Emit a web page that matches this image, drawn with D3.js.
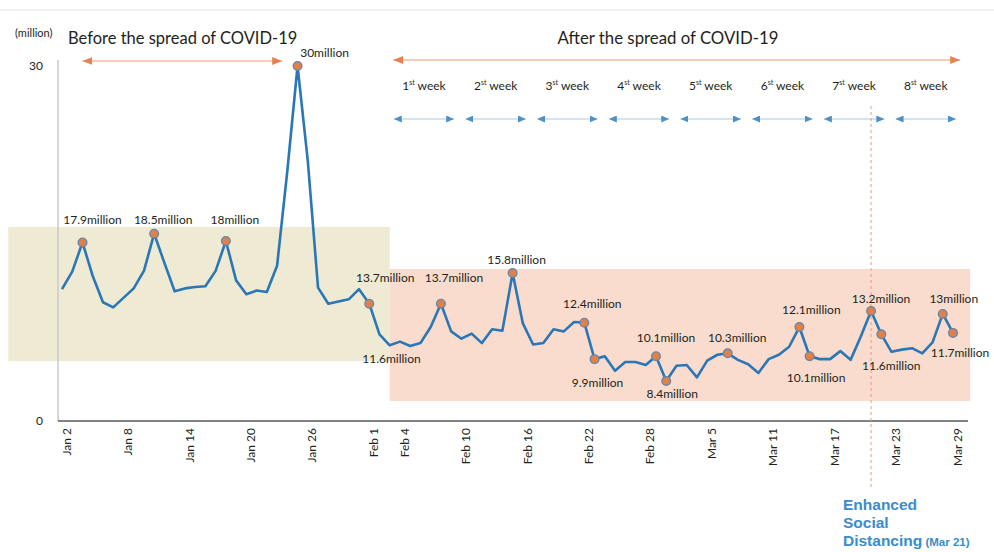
<!DOCTYPE html>
<html>
<head>
<meta charset="utf-8">
<script src="https://cdn.jsdelivr.net/npm/d3@7"></script>
<style>
  html, body { margin: 0; padding: 0; background: #fff; }
  svg { display: block; font-family: Lato, "Open Sans", sans-serif; }
</style>
</head>
<body>
<svg id="chart" width="994" height="552"></svg>
<script>
// Daily ridership (million) from 2 Jan to 29 Mar 2020
const startDay = "2020-01-02";
const endDay = "2020-03-29";
const ridership = [
  // Jan 2 - Jan 31
  14.7, 15.9, 17.9, 15.6, 13.8, 13.45, 14.1, 14.75, 15.95, 18.5,
  16.5, 14.55, 14.75, 14.85, 14.9, 15.95, 18, 15.3, 14.35, 14.6,
  14.5, 16.3, 22.8, 30, 23.5, 14.8, 13.7, 13.85, 14.0, 14.7,
  // Feb 1 - Feb 29
  13.7, 11.6, 10.85, 11.1, 10.8, 11.0, 12.1, 13.7, 11.8, 11.3,
  11.65, 11.0, 11.95, 11.85, 15.8, 12.35, 10.9, 11.0, 11.95, 11.8,
  12.45, 12.4, 9.9, 10.1, 9.1, 9.7, 9.7, 9.5, 10.1,
  // Mar 1 - Mar 29
  8.4, 9.45, 9.5, 8.65, 9.8, 10.2, 10.3, 9.85, 9.55, 8.95,
  9.9, 10.2, 10.75, 12.1, 10.1, 9.9, 9.9, 10.45, 9.85, 11.45,
  13.2, 11.6, 10.4, 10.55, 10.65, 10.3, 11.05, 13, 11.7
];

// Days that carry a value callout; the ones in calloutNoDot get text only
const calloutDays = ["2020-01-04", "2020-01-11", "2020-01-18", "2020-01-25", "2020-02-01",
  "2020-02-02", "2020-02-08", "2020-02-15", "2020-02-22", "2020-02-23", "2020-02-29",
  "2020-03-01", "2020-03-07", "2020-03-14", "2020-03-15", "2020-03-21", "2020-03-22",
  "2020-03-28", "2020-03-29"];
const calloutNoDot = ["2020-02-02"];

// x-axis tick days
const tickDays = ["2020-01-02", "2020-01-08", "2020-01-14", "2020-01-20", "2020-01-26",
  "2020-02-01", "2020-02-04", "2020-02-10", "2020-02-16", "2020-02-22", "2020-02-28",
  "2020-03-05", "2020-03-11", "2020-03-17", "2020-03-23", "2020-03-29"];
const yTicks = [0, 30];

// Monday of each week after the outbreak
const weekStarts = ["2020-02-03", "2020-02-10", "2020-02-17", "2020-02-24",
  "2020-03-02", "2020-03-09", "2020-03-16", "2020-03-23"];
const weekSuffix = "st";

const periodLabels = ["Before the spread of COVID-19", "After the spread of COVID-19"];
const policyDay = "2020-03-21";
const policyLines = ["Enhanced", "Social", "Distancing"];

// ---------------------------------------------------------------------------
const parse = d3.utcParse("%Y-%m-%d");
const key = d3.utcFormat("%Y-%m-%d");
const fmtTick = d3.utcFormat("%b %-d");
const days = d3.utcDay.range(parse(startDay), d3.utcDay.offset(parse(endDay), 1));
const series = days.map((d, i) => ({ date: d, value: ridership[i] }));
const byKey = new Map(series.map(d => [key(d.date), d]));

const svg = d3.select("#chart");

const x = d3.scaleUtc().domain([parse(startDay), parse(endDay)]).range([62, 953]);
// Lower part of the value axis is compressed (broken axis), upper part is linear
const y = d3.scaleLinear().domain([0, 6, 30]).range([421, 416, 66]);

const hours = (s, h) => d3.utcHour.offset(parse(s), h);

// faint header rule
svg.append("line").attr("x1", 0).attr("x2", 994).attr("y1", 10).attr("y2", 10)
  .attr("stroke", "#f0f0f0").attr("stroke-width", 2);

// shaded period bands
svg.append("rect")
  .attr("x", x(hours("2019-12-27", 18))).attr("width", x(parse("2020-02-03")) - x(hours("2019-12-27", 18)))
  .attr("y", y(18.96)).attr("height", y(9.77) - y(18.96))
  .attr("fill", "#eeead3");
svg.append("rect")
  .attr("x", x(parse("2020-02-03"))).attr("width", x(hours("2020-03-30", 16)) - x(parse("2020-02-03")))
  .attr("y", y(16.08)).attr("height", y(7.03) - y(16.08))
  .attr("fill", "#f9dccd");

// arrow markers
const defs = svg.append("defs");
function marker(id, fill, len, wid) {
  defs.append("marker").attr("id", id)
    .attr("viewBox", `0 ${-wid / 2} ${len} ${wid}`)
    .attr("refX", len).attr("refY", 0)
    .attr("markerUnits", "userSpaceOnUse")
    .attr("markerWidth", len).attr("markerHeight", wid)
    .attr("orient", "auto-start-reverse")
    .append("path").attr("d", `M0,${-wid / 2}L${len},0L0,${wid / 2}Z`).attr("fill", fill);
}
marker("arrOrange", "#e7814f", 10, 8);
marker("arrBlue", "#4a90c9", 8, 7);

// axes lines
svg.append("line").attr("x1", 58).attr("x2", 58).attr("y1", 60).attr("y2", y(0))
  .attr("stroke", "#c9c9c9").attr("stroke-width", 1.5);
svg.append("line").attr("x1", 58).attr("x2", 968).attr("y1", y(0)).attr("y2", y(0))
  .attr("stroke", "#5a5a5a").attr("stroke-width", 1.6);

// x axis labels
const xAxis = d3.axisBottom(x).tickValues(tickDays.map(parse)).tickFormat(fmtTick).tickSize(0);
const gx = svg.append("g").attr("transform", `translate(0,${y(0)})`).call(xAxis);
gx.select(".domain").remove();
gx.selectAll("text")
  .attr("transform", "rotate(-90)")
  .attr("x", -7).attr("y", 4).attr("dy", "0.35em")
  .style("text-anchor", "end")
  .attr("fill", "#231f20").style("font-size", "12px").style("font-family", "Lato, sans-serif");

// y axis labels
const yAxis = d3.axisLeft(y).tickValues(yTicks).tickFormat(d3.format("d")).tickSize(0).tickPadding(15);
const gy = svg.append("g").attr("transform", "translate(58,0)").call(yAxis);
gy.select(".domain").remove();
gy.selectAll("text").attr("fill", "#231f20").style("font-size", "12px").style("font-family", "Lato, sans-serif");

// unit + period titles
svg.append("text").attr("x", 15).attr("y", 37).text("(million)")
  .attr("font-size", 11).attr("fill", "#231f20");
svg.append("text").attr("x", 68).attr("y", 44).text(periodLabels[0])
  .attr("font-size", 16.5).attr("fill", "#231f20");
svg.append("text").attr("x", 668).attr("y", 44).attr("text-anchor", "middle").text(periodLabels[1])
  .attr("font-size", 16.8).attr("fill", "#231f20");

// period arrows
svg.append("line")
  .attr("x1", x(parse("2020-01-04"))).attr("x2", x(hours("2020-01-23", 12)))
  .attr("y1", 61).attr("y2", 61)
  .attr("stroke", "#ee9c78").attr("stroke-width", 1.2)
  .attr("marker-start", "url(#arrOrange)").attr("marker-end", "url(#arrOrange)");
svg.append("line")
  .attr("x1", x(hours("2020-02-03", 8))).attr("x2", x(hours("2020-03-29", 17)))
  .attr("y1", 60).attr("y2", 60)
  .attr("stroke", "#ee9c78").attr("stroke-width", 1.2)
  .attr("marker-start", "url(#arrOrange)").attr("marker-end", "url(#arrOrange)");

// week arrows and labels
const weekG = svg.append("g");
weekStarts.forEach((s, i) => {
  const x0 = x(parse(s)) + 4;
  const x1 = x(d3.utcDay.offset(parse(s), 6)) + 3;
  weekG.append("line").attr("x1", x0).attr("x2", x1).attr("y1", 119).attr("y2", 119)
    .attr("stroke", "#a9cbe6").attr("stroke-width", 1.1)
    .attr("marker-start", "url(#arrBlue)").attr("marker-end", "url(#arrBlue)");
  const t = weekG.append("text").attr("x", (x0 + x1) / 2).attr("y", 90)
    .attr("text-anchor", "middle").attr("font-size", 12).attr("fill", "#231f20");
  t.append("tspan").text(i + 1);
  t.append("tspan").text(weekSuffix).attr("font-size", 7).attr("dy", -5);
  t.append("tspan").text(" week").attr("dy", 5);
});

// policy marker line
svg.append("line")
  .attr("x1", x(parse(policyDay))).attr("x2", x(parse(policyDay)))
  .attr("y1", 106).attr("y2", 488)
  .attr("stroke", "#eb9a7c").attr("stroke-width", 1).attr("stroke-dasharray", "3,3");

// ridership line
const line = d3.line().x(d => x(d.date)).y(d => y(d.value));
svg.append("path").datum(series)
  .attr("d", line).attr("fill", "none")
  .attr("stroke", "#2a76b6").attr("stroke-width", 2.6).attr("stroke-linejoin", "round");

// callouts (label offsets in px relative to the point)
const calloutOffset = {
  "2020-01-04": [10, -18.5], "2020-01-11": [9, -9.7], "2020-01-18": [9, -17],
  "2020-01-25": [27, -9], "2020-02-01": [16, -21.7], "2020-02-02": [12, 28.7],
  "2020-02-08": [13, -22], "2020-02-15": [4, -9], "2020-02-22": [8, -15],
  "2020-02-23": [3, 27.6], "2020-02-29": [10, -14.5], "2020-03-01": [6, 17],
  "2020-03-07": [9.5, -11.6], "2020-03-14": [12, -12.7], "2020-03-15": [6.5, 25.5],
  "2020-03-21": [10, -7.7], "2020-03-22": [10, 35.7], "2020-03-28": [11, -10.6],
  "2020-03-29": [7, 23.8]
};
const callouts = calloutDays.map(s => byKey.get(s));
svg.append("g").selectAll("circle")
  .data(callouts.filter(d => !calloutNoDot.includes(key(d.date))))
  .join("circle")
  .attr("cx", d => x(d.date)).attr("cy", d => y(d.value)).attr("r", 4.3)
  .attr("fill", "#e2804a").attr("stroke", "#6887a6").attr("stroke-width", 1.4);
svg.append("g").selectAll("text").data(callouts).join("text")
  .attr("x", d => x(d.date) + calloutOffset[key(d.date)][0])
  .attr("y", d => y(d.value) + calloutOffset[key(d.date)][1])
  .attr("text-anchor", "middle").attr("font-size", 12).attr("fill", "#231f20")
  .text(d => `${d.value}million`);

// policy annotation
const ann = svg.append("g").attr("fill", "#3a8cca").attr("font-weight", "bold")
  .attr("font-family", "'Liberation Sans', Arial, sans-serif");
policyLines.forEach((s, i) => {
  const t = ann.append("text").attr("x", 843).attr("y", 510 + i * 18).attr("font-size", 15.5).text(s);
  if (i === policyLines.length - 1) {
    t.append("tspan").attr("font-size", 11.5).text(" (" + fmtTick(parse(policyDay)) + ")");
  }
});
</script>
</body>
</html>
